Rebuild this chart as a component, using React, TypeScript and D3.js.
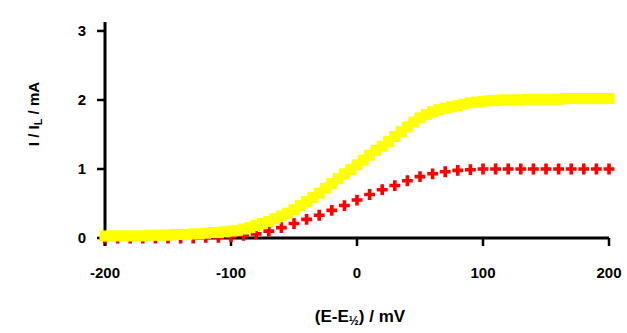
import * as d3 from "d3";

const potentials = d3.range(-200, 201, 5);
const redPotentials = d3.range(-200, 201, 10);

// I / I_L for the larger wave (every 5 mV)
const yellowValues = [
  0.03, 0.03, 0.03, 0.03, 0.03, 0.03, 0.03, 0.04, 0.04, 0.04,
  0.04, 0.05, 0.05, 0.05, 0.06, 0.06, 0.07, 0.08, 0.08, 0.09,
  0.10, 0.11, 0.13, 0.15, 0.18, 0.21, 0.24, 0.28, 0.32, 0.36,
  0.41, 0.47, 0.53, 0.59, 0.65, 0.72, 0.79, 0.86, 0.93, 0.99,
  1.06, 1.13, 1.20, 1.27, 1.33, 1.40, 1.47, 1.54, 1.61, 1.68,
  1.74, 1.79, 1.83, 1.86, 1.88, 1.90, 1.92, 1.94, 1.96, 1.97,
  1.98, 1.99, 1.99, 2.0, 2.0, 2.0, 2.0, 2.01, 2.01, 2.01,
  2.01, 2.01, 2.01, 2.02, 2.02, 2.02, 2.02, 2.02, 2.02, 2.02,
  2.02,
];

// smaller wave (every 10 mV)
const redValues = [
  0.0, 0.0, 0.0, 0.0, 0.0, 0.0, 0.0, 0.0, 0.01, 0.01,
  0.02, 0.04, 0.06, 0.10, 0.15, 0.21, 0.27, 0.33, 0.40, 0.47,
  0.55, 0.63, 0.70, 0.76, 0.83, 0.89, 0.93, 0.96, 0.98, 0.99,
  1.0, 1.0, 1.0, 1.0, 1.0, 1.0, 1.0, 1.0, 1.0, 1.0,
  1.0,
];

const xTicks = [-200, -100, 0, 100, 200];
const yTicks = [0, 1, 2, 3];

const width = 627;
const height = 333;
const font = "'Liberation Sans', Arial, sans-serif";

export default function App() {
  const x = d3.scaleLinear([-200, 200], [105, 609]);
  const y = d3.scaleLinear([0, 3.13], [238, 22]);
  const cross = d3.symbol(d3.symbolCross, 65)();

  return (
    <svg
      width={width}
      height={height}
      style={{ position: "absolute", left: 0, top: 0, background: "#fff" }}
      fontFamily={font}
    >
      {/* axes */}
      <line x1={x(-200)} x2={x(200)} y1={y(0)} y2={y(0)} stroke="#000" strokeWidth={3} />
      <line x1={x(-200)} x2={x(-200)} y1={22} y2={246} stroke="#000" strokeWidth={3} />
      {xTicks.map((t) => (
        <g key={t}>
          <line x1={x(t)} x2={x(t)} y1={y(0)} y2={y(0) + 8} stroke="#000" strokeWidth={2.5} />
          <text x={x(t)} y={278} textAnchor="middle" fontSize={15} fontWeight="bold">
            {t}
          </text>
        </g>
      ))}
      {yTicks.map((t) => (
        <g key={t}>
          <line x1={x(-200) - 8} x2={x(-200)} y1={y(t)} y2={y(t)} stroke="#000" strokeWidth={2.5} />
          <text x={86} y={y(t) + 5} textAnchor="end" fontSize={15} fontWeight="bold">
            {t}
          </text>
        </g>
      ))}

      {/* data */}
      <g fill="#ff0000">
        {redValues.map((v, i) => (
          <path key={i} d={cross} transform={`translate(${x(redPotentials[i])},${y(v)})`} />
        ))}
      </g>
      <g fill="#ffff00">
        {yellowValues.map((v, i) => (
          <rect key={i} x={x(potentials[i]) - 5.5} y={y(v) - 5.5} width={11} height={11} />
        ))}
      </g>

      {/* titles */}
      <text x={360} y={322} textAnchor="middle" fontSize={17} fontWeight="bold">
        (E-E<tspan fontSize={12} dy={3}>½</tspan>
        <tspan dy={-3}>) / mV</tspan>
      </text>
      <text
        transform="translate(39,114) rotate(-90)"
        textAnchor="middle"
        fontSize={15}
        fontWeight="bold"
      >
        I / I<tspan fontSize={11} dy={3}>L</tspan>
        <tspan dy={-3}> / mA</tspan>
      </text>
    </svg>
  );
}
